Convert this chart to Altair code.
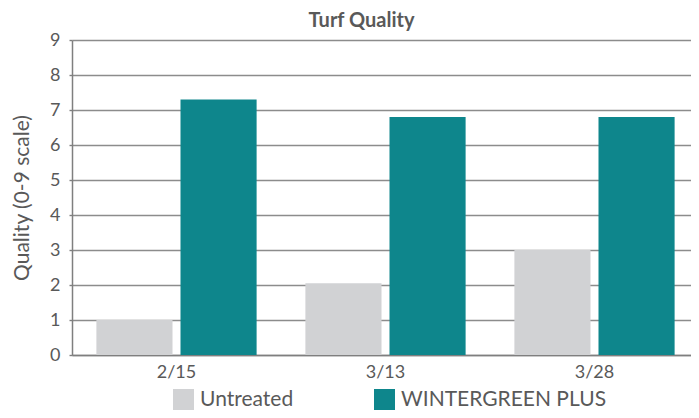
import altair as alt
import pandas as pd

dates = ["2/15", "3/13", "3/28"]
series = ["Untreated", "WINTERGREEN PLUS"]
untreated = [1.0, 2.05, 3.0]
wintergreen = [7.3, 6.8, 6.8]
y_ticks = [0, 1, 2, 3, 4, 5, 6, 7, 8, 9]

rows = []
for d, u, w in zip(dates, untreated, wintergreen):
    rows.append({"date": d, "series": series[0], "value": u})
    rows.append({"date": d, "series": series[1], "value": w})
df = pd.DataFrame(rows)

FONT = "Lato"
TXT = "#595959"

chart = alt.Chart(df).mark_bar().encode(
    x=alt.X("date:N", sort=dates,
            scale=alt.Scale(paddingInner=0, paddingOuter=0, range=[0, 627]),
            axis=alt.Axis(title=None, labelAngle=0, labelFontSize=18, labelColor=TXT,
                          labelFont=FONT, ticks=False, domainColor="#7f7f7f",
                          domainWidth=1.5, labelPadding=8)),
    xOffset=alt.XOffset("series:N", sort=series,
                        scale=alt.Scale(paddingInner=0.095, paddingOuter=0.29)),
    y=alt.Y("value:Q", scale=alt.Scale(domain=[0, 9], nice=False),
            axis=alt.Axis(title="Quality (0-9 scale)", values=y_ticks, tickCount=10,
                          labelFontSize=18, labelColor=TXT, labelFont=FONT,
                          titleFont=FONT, titleFontSize=21, titleFontWeight="normal",
                          titleColor=TXT, titlePadding=17,
                          ticks=True, tickSize=3, tickColor="#7f7f7f", tickWidth=1.4,
                          labelPadding=9, domainColor="#7f7f7f",
                          domainWidth=1.5, gridColor="#8c8c8c", gridWidth=1.4)),
    color=alt.Color("series:N", sort=series,
                    scale=alt.Scale(domain=series, range=["#d1d2d4", "#0e868c"]),
                    legend=alt.Legend(title=None, orient="none", direction="horizontal",
                                      legendX=101, legendY=349, symbolType="square",
                                      symbolSize=441, symbolStrokeWidth=0,
                                      symbolOpacity=1,
                                      labelFontSize=21, labelFont=FONT, labelColor=TXT,
                                      columnPadding=80, padding=0, labelOffset=6,
                                      labelLimit=300)),
).properties(
    width=619,
    height=315,
    title=alt.TitleParams("Turf Quality", font=FONT, fontSize=20, fontWeight="bold",
                          color="#595959", offset=0, dx=-20),
    autosize=alt.AutoSizeParams(type="none"),
    padding={"left": 64, "top": 32, "right": 0, "bottom": 55},
).configure_view(stroke=None).configure_axisX(grid=False)

chart.save("out.html", embed_options={"renderer": "svg", "actions": False})
